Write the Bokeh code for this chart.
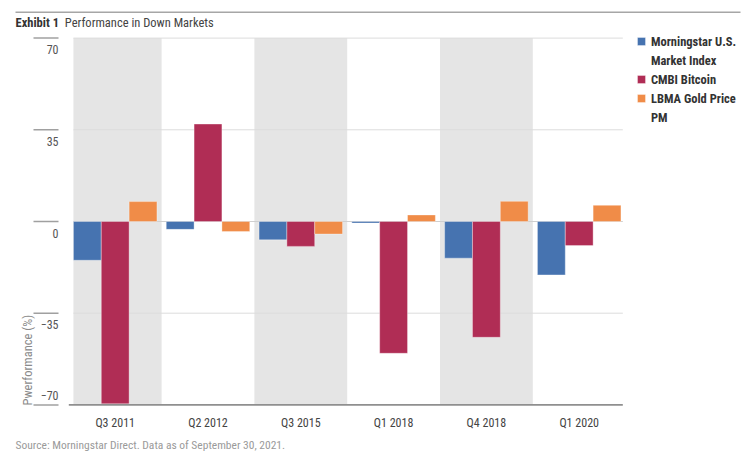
import math
from bokeh.plotting import figure
from bokeh.models import Range1d, FixedTicker, Legend, LegendItem, Title, ColumnDataSource
from bokeh.embed import file_html
from bokeh.resources import INLINE
from bokeh.core.properties import value

# ---------------- data ----------------
quarters = ["Q3 2011", "Q2 2012", "Q3 2015", "Q1 2018", "Q4 2018", "Q1 2020"]
morningstar = [-14.8, -3.0, -7.0, -0.6, -14.0, -20.4]
bitcoin = [-69.6, 37.2, -9.5, -50.3, -44.2, -9.2]
gold = [7.6, -3.8, -4.8, 2.5, 7.7, 6.2]
# legend entries, each a list of lines
series_labels = [["Morningstar U.S.", "Market Index"], ["CMBI Bitcoin"], ["LBMA Gold Price", "PM"]]
y_ticks = [70, 35, 0, -35, -70]
y_title = "Pwerformance (%)"
title_bold = "Exhibit 1"
title_text = "Performance in Down Markets"
source_text = "Source: Morningstar Direct. Data as of September 30, 2021."

# ---------------- styling / layout ----------------
FONT = "Roboto Condensed, Liberation Sans Narrow, Roboto"
COLORS = ["#4673B0", "#B02D55", "#F08C48"]
BAND = "#E5E5E5"

# window-pixel layout helpers (layout only, not data)
PX_PER_CAT = 92.8
CAT0_PX = 114.7
ZERO_PX = 221.0
PX_PER_UNIT = 2.62


def dx(px):
    return (px - CAT0_PX) / PX_PER_CAT


def dy(py):
    return (ZERO_PX - py) / PX_PER_UNIT


FL, FR, FT, FB = 12, 745, 10, 407

p = figure(
    frame_width=FR - FL, frame_height=FB - FT,
    x_range=Range1d(dx(FL), dx(FR)), y_range=Range1d(dy(FB), dy(FT)),
    min_border_left=FL, min_border_right=0, min_border_top=FT, min_border_bottom=48,
    y_axis_location=None,
    output_backend="svg", toolbar_location=None,
)
p.outline_line_color = None
p.grid.visible = False
p.background_fill_color = "white"

bar_w = 0.3
offsets = [-bar_w, 0.0, bar_w]
area_left = -1.5 * bar_w
area_right = len(quarters) - 1 + 0.47
ymin, ymax = min(y_ticks), max(y_ticks)

xs = list(range(len(quarters)))

# alternating grey bands
band_idx = list(range(0, len(quarters), 2))
p.quad(left=[max(i - 0.5, area_left) for i in band_idx], right=[i + 0.5 for i in band_idx],
       bottom=ymin, top=ymax, fill_color=BAND, line_color=None)

# gridlines
grid_vals = [t for t in y_ticks if t not in (0, ymin)]
p.segment(x0=area_left, x1=area_right, y0=grid_vals, y1=grid_vals, line_color="#dcdcdc", line_width=1)
p.segment(x0=area_left, x1=area_right, y0=0, y1=0, line_color="#cfcfcf", line_width=1.2)

# bars
renderers = []
for vals, off, col in zip([morningstar, bitcoin, gold], offsets, COLORS):
    src = ColumnDataSource(dict(x=[x + off for x in xs], top=vals))
    r = p.vbar(x="x", top="top", bottom=0, width=bar_w, source=src,
               fill_color=col, line_color="white", line_alpha=0.35, line_width=1)
    renderers.append(r)

# invisible renderer used for continuation lines of legend labels
blank = p.vbar(x=[], top=[], width=bar_w, fill_alpha=0, line_alpha=0)

# bottom axis line
p.segment(x0=-0.5, x1=area_right, y0=ymin, y1=ymin, line_color="#8f8f8f", line_width=1.8)

# y tick marks and labels
p.segment(x0=dx(33), x1=dx(58), y0=y_ticks, y1=y_ticks, line_color="#a0a0a0", line_width=1.5)
labels = [("\u2212" + str(-t)) if t < 0 else str(t) for t in y_ticks]
yoffs = [11.5 if t > ymin else -9 for t in y_ticks]
p.text(x=dx(58), y=y_ticks, text=labels, y_offset=yoffs,
       text_align="right", text_baseline="middle",
       text_font=value(FONT), text_font_size="12px", text_color="#555555")

# y title
p.text(x=[dx(27)], y=[dy(405)], text=[y_title], angle=math.pi / 2,
       text_align="left", text_baseline="middle",
       text_font=value(FONT), text_font_size="12.5px", text_color="#8a8a8a")

# title and rule
p.segment(x0=dx(15), x1=dx(740), y0=dy(11.7), y1=dy(11.7), line_color="#a6a6a6", line_width=1.5)
p.text(x=[dx(15)], y=[dy(22)], text=[title_bold], text_align="left", text_baseline="middle",
       text_font=value(FONT), text_font_size="12.5px", text_font_style="bold", text_color="#333333")
p.text(x=[dx(64.3)], y=[dy(22)], text=[title_text], text_align="left", text_baseline="middle",
       text_font=value(FONT), text_font_size="12.5px", text_color="#444444")

# x axis
xa = p.xaxis[0]
xa.ticker = FixedTicker(ticks=xs)
xa.major_label_overrides = {i: q for i, q in zip(xs, quarters)}
xa.axis_line_color = None
xa.major_tick_line_color = None
xa.minor_tick_line_color = None
xa.major_label_standoff = 2
xa.major_label_text_font = FONT
xa.major_label_text_font_size = "12px"
xa.major_label_text_color = "#444444"

# legend
items = []
for lines, r in zip(series_labels, renderers):
    items.append(LegendItem(label=lines[0], renderers=[r]))
    for extra in lines[1:]:
        items.append(LegendItem(label=extra, renderers=[blank]))
legend = Legend(
    items=items,
    location=(624, 282), margin=0, padding=0, spacing=3,
    glyph_width=10, glyph_height=10, label_standoff=5, label_height=16,
    border_line_color=None, background_fill_alpha=0,
    label_text_font=FONT, label_text_font_size="12.5px", label_text_font_style="bold",
    label_text_color="#333333",
)
p.add_layout(legend)

# source note
p.add_layout(Title(text=source_text, align="left", offset=3, standoff=6, text_font=FONT,
                   text_font_size="11.5px", text_font_style="normal", text_color="#9a9a9a"), "below")

open("out.html", "w").write(file_html(p, INLINE))
